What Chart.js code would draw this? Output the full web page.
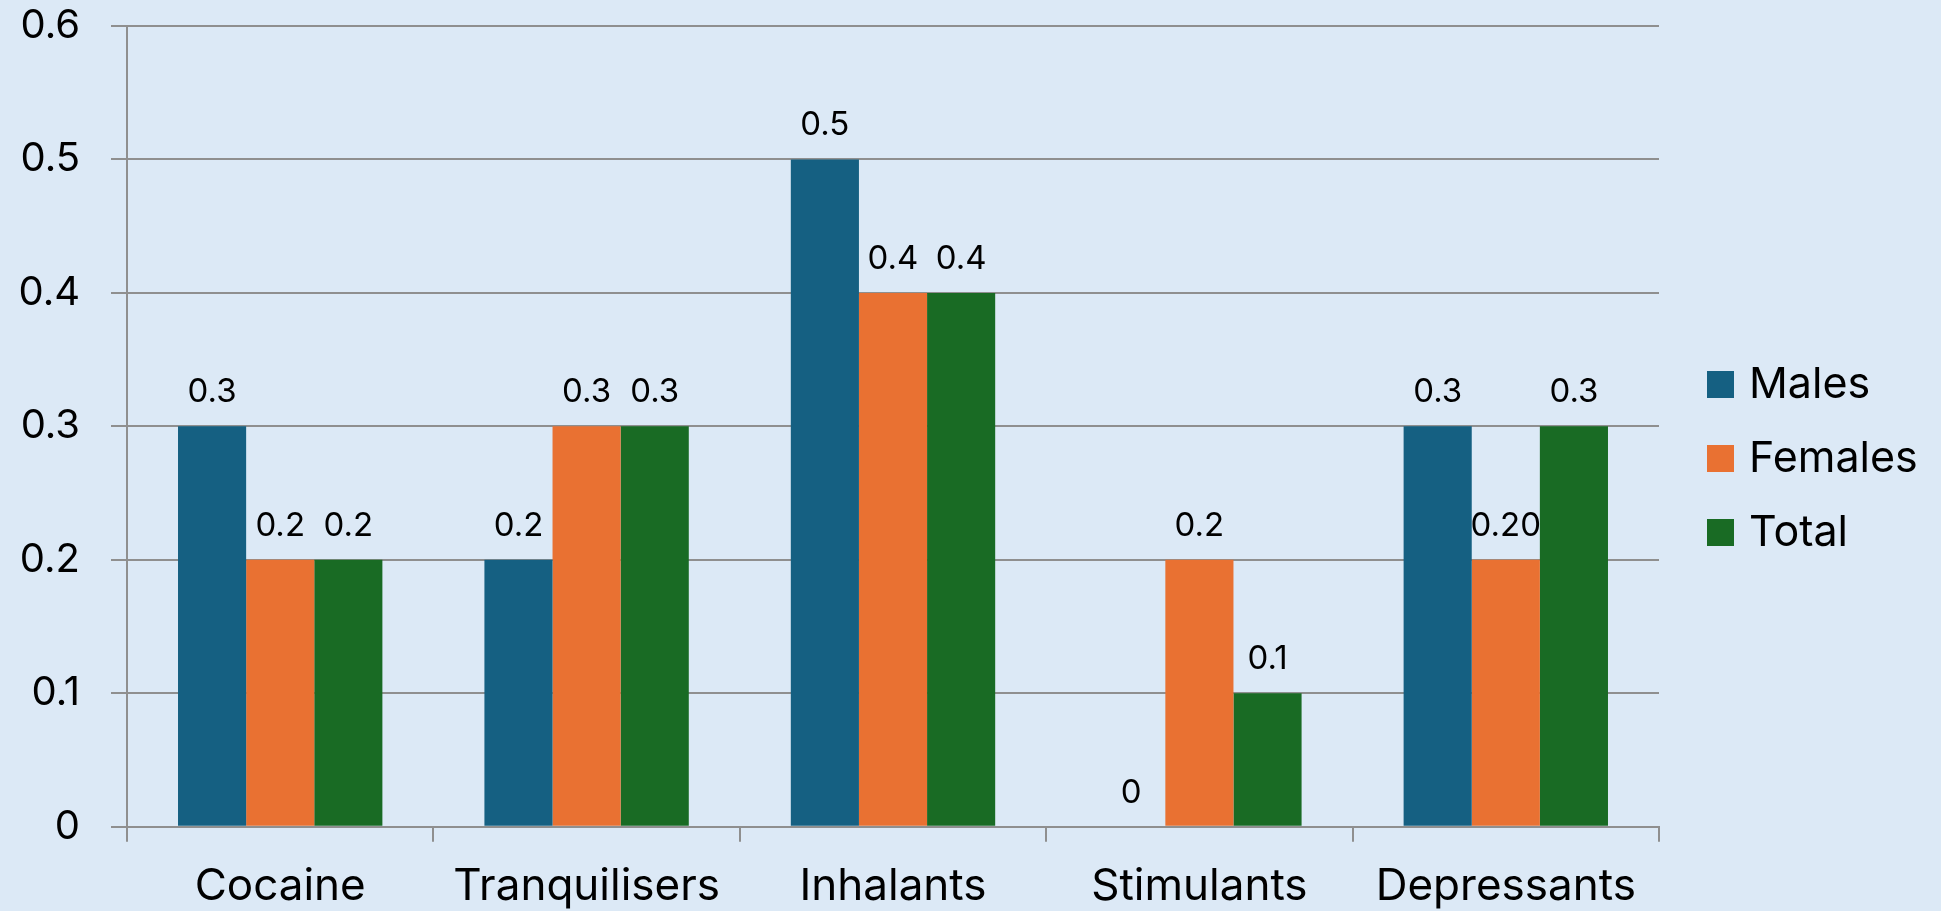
<!DOCTYPE html>
<html>
<head>
<meta charset="utf-8">
<script src="https://cdn.jsdelivr.net/npm/chart.js@4"></script>
<style>
  html, body { margin: 0; padding: 0; background: #dce9f6; overflow: hidden; }
  #wrap { width: 1941px; height: 911px; position: relative; }
</style>
</head>
<body>
<div id="wrap"><canvas id="chart"></canvas></div>
<script>
const categories = ['Cocaine', 'Tranquilisers', 'Inhalants', 'Stimulants', 'Depressants'];
const males = [0.3, 0.2, 0.5, 0, 0.3];
const females = [0.2, 0.3, 0.4, 0.2, 0.2];
const total = [0.2, 0.3, 0.4, 0.1, 0.3];
const malesLabels = ['0.3', '0.2', '0.5', '0', '0.3'];
const femalesLabels = ['0.2', '0.3', '0.4', '0.2', '0.20'];
const totalLabels = ['0.2', '0.3', '0.4', '0.1', '0.3'];
const yTicks = [0, 0.1, 0.2, 0.3, 0.4, 0.5, 0.6];

const gridColor = '#8f8f8f';

// value labels above the bars
const barLabels = {
  id: 'barLabels',
  afterDatasetsDraw(chart) {
    const ctx = chart.ctx;
    ctx.save();
    ctx.font = '33px Inter, sans-serif';
    ctx.fillStyle = '#000';
    ctx.textAlign = 'center';
    ctx.textBaseline = 'middle';
    chart.data.datasets.forEach((ds, i) => {
      chart.getDatasetMeta(i).data.forEach((bar, j) => {
        ctx.fillText(ds.valueLabels[j], bar.x, bar.y - 34);
      });
    });
    ctx.restore();
  }
};

// legend on the right, drawn next to the plot area
const sideLegend = {
  id: 'sideLegend',
  afterDraw(chart) {
    const ctx = chart.ctx;
    const x = chart.chartArea.right + 48;
    ctx.save();
    ctx.font = '43px Inter, sans-serif';
    ctx.textBaseline = 'middle';
    ctx.textAlign = 'left';
    chart.data.datasets.forEach((ds, i) => {
      const y = 384.5 + i * 74;
      ctx.fillStyle = ds.backgroundColor;
      ctx.fillRect(x, y - 13.5, 27, 27);
      ctx.fillStyle = '#000';
      ctx.fillText(ds.label, x + 42, y + 1);
    });
    ctx.restore();
  }
};

new Chart(document.getElementById('chart'), {
  type: 'bar',
  data: {
    labels: categories,
    datasets: [
      { label: 'Males', data: males, valueLabels: malesLabels, backgroundColor: '#156082' },
      { label: 'Females', data: females, valueLabels: femalesLabels, backgroundColor: '#e97132' },
      { label: 'Total', data: total, valueLabels: totalLabels, backgroundColor: '#196b24' }
    ]
  },
  options: {
    responsive: true,
    maintainAspectRatio: false,
    animation: false,
    categoryPercentage: 0.667,
    barPercentage: 1.0,
    layout: { padding: { left: 0, right: 282, top: 26, bottom: 0 } },
    plugins: {
      legend: { display: false },
      tooltip: { enabled: false }
    },
    scales: {
      x: {
        offset: true,
        afterFit(axis) {
          axis.height = 84.3;
          axis.paddingLeft = 0;
          axis.paddingRight = 0;
        },
        grid: { display: true, drawOnChartArea: false, drawTicks: true, tickLength: 15, color: gridColor, lineWidth: 2 },
        border: { display: true, color: gridColor, width: 2 },
        ticks: {
          color: '#000',
          padding: 21,
          font: { family: 'Inter, sans-serif', size: 44, lineHeight: 1.1 }
        }
      },
      y: {
        min: 0,
        max: 0.6,
        afterBuildTicks(axis) { axis.ticks = yTicks.map(v => ({ value: v })); },
        afterFit(axis) {
          axis.width = 127;
          axis.paddingTop = 0;
          axis.paddingBottom = 0;
        },
        grid: { color: gridColor, lineWidth: 2, tickLength: 16 },
        border: { display: true, color: gridColor, width: 2 },
        ticks: {
          color: '#000',
          padding: 31,
          font: { family: 'Inter, sans-serif', size: 40 },
          callback: (v) => String(Math.round(v * 10) / 10)
        }
      }
    }
  },
  plugins: [barLabels, sideLegend]
});
</script>
</body>
</html>
